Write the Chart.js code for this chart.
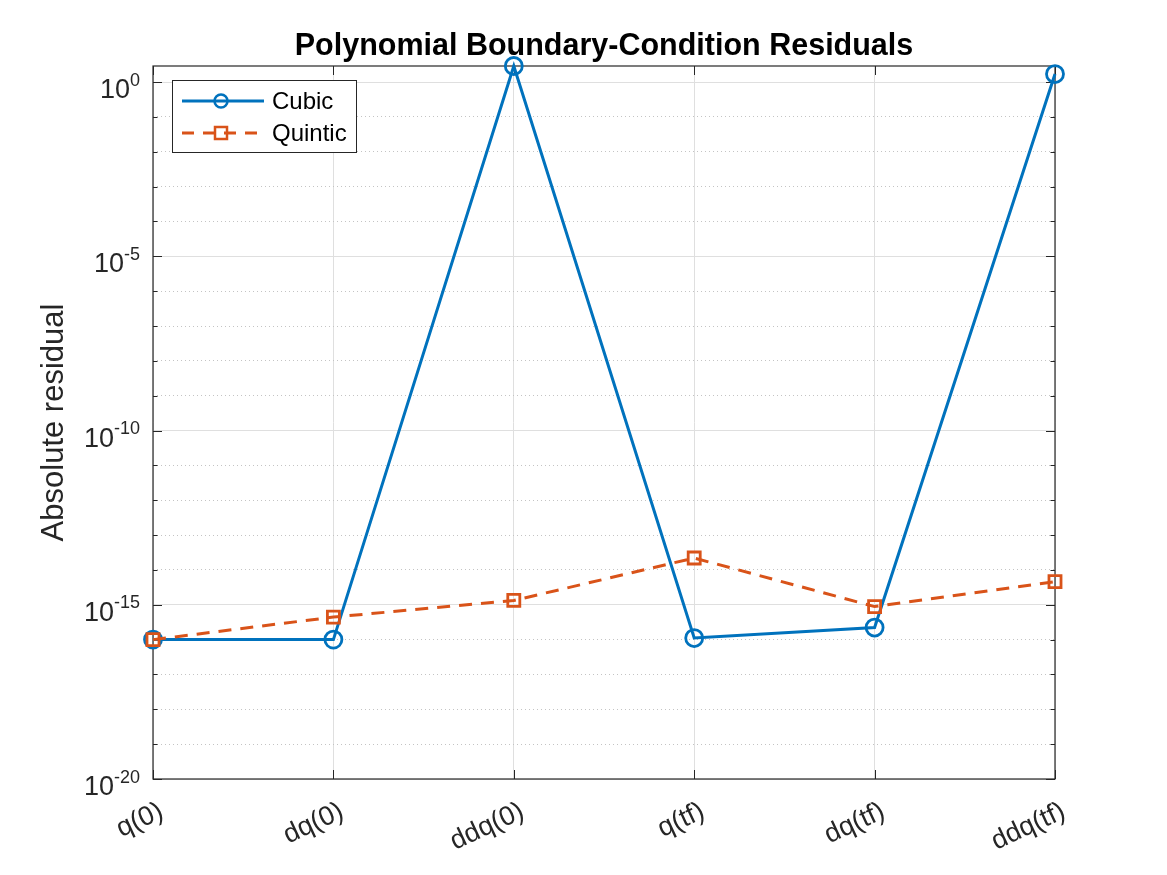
<!DOCTYPE html>
<html>
<head>
<meta charset="utf-8">
<script src="https://cdn.jsdelivr.net/npm/chart.js@4.4.0/dist/chart.umd.min.js"></script>
<style>
html, body { margin: 0; padding: 0; background: #fff; }
canvas { display: block; }
</style>
</head>
<body>
<canvas id="residualChart" width="1167" height="875"></canvas>
<script>
// boundary conditions along the x axis
const conditions = ['q(0)', 'dq(0)', 'ddq(0)', 'q(tf)', 'dq(tf)', 'ddq(tf)'];
// absolute residual per condition
const cubicResidual = [1e-16, 1e-16, 2.9, 1.11e-16, 2.22e-16, 1.7];
const quinticResidual = [1e-16, 4.44e-16, 1.33e-15, 2.2e-14, 8.88e-16, 4.6e-15];
// y axis: labelled decades and limits
const labelledExponents = [0, -5, -10, -15, -20];
const yMin = 1e-20;
const yMax = 2.9;

const FONT = 'Liberation Sans, Arial, sans-serif';
const BLUE = '#0072BD';
const ORANGE = '#D95319';
const AXIS = '#262626';
const LABEL_ROT = 25 * Math.PI / 180;

// every decade gets a grid line, the labelled ones are solid
let decades = [];
for (let e = -20; e <= 0; e++) decades.push(e);
const isMajor = v => labelledExponents.indexOf(Math.round(Math.log10(v))) >= 0;

const axesPlugin = {
    id: 'matlabAxes',
    beforeDatasetsDraw(chart) {
        const { ctx, chartArea: { left, right, top, bottom } } = chart;
        const xs = chart.scales.x, ys = chart.scales.y;
        ctx.save();
        ctx.strokeStyle = AXIS;
        ctx.lineWidth = 1.2;
        ctx.strokeRect(left, top, right - left, bottom - top);
        ctx.lineWidth = 1;
        ctx.beginPath();
        decades.forEach(e => {
            const y = Math.round(ys.getPixelForValue(Math.pow(10, e))) + 0.5;
            const len = labelledExponents.indexOf(e) >= 0 ? 9 : 4.5;
            ctx.moveTo(left, y); ctx.lineTo(left + len, y);
            ctx.moveTo(right, y); ctx.lineTo(right - len, y);
        });
        conditions.forEach((c, i) => {
            const x = Math.round(xs.getPixelForValue(i)) + 0.5;
            ctx.moveTo(x, bottom); ctx.lineTo(x, bottom - 9);
            ctx.moveTo(x, top); ctx.lineTo(x, top + 9);
        });
        ctx.stroke();
        ctx.restore();
    },
    afterDraw(chart) {
        const { ctx, chartArea: { left, right, top, bottom } } = chart;
        const xs = chart.scales.x, ys = chart.scales.y;
        ctx.save();

        // y tick labels as 10 with a raised exponent
        ctx.fillStyle = AXIS;
        ctx.textBaseline = 'alphabetic';
        labelledExponents.forEach(e => {
            const y = ys.getPixelForValue(Math.pow(10, e));
            const exp = String(e);
            ctx.font = '18px ' + FONT;
            const expW = ctx.measureText(exp).width;
            ctx.textAlign = 'right';
            ctx.fillText(exp, 140, y + 3.5);
            ctx.font = '27px ' + FONT;
            ctx.fillText('10', 140 - expW, y + 16);
        });

        // rotated x tick labels
        ctx.font = '27px ' + FONT;
        ctx.textAlign = 'right';
        ctx.textBaseline = 'top';
        conditions.forEach((c, i) => {
            const x = xs.getPixelForValue(i);
            ctx.save();
            ctx.translate(x + 3, bottom + 19);
            ctx.rotate(-LABEL_ROT);
            ctx.fillText(c, 0, 0);
            ctx.restore();
        });

        // title
        ctx.fillStyle = '#000';
        ctx.textBaseline = 'alphabetic';
        ctx.font = 'bold 30.5px ' + FONT;
        ctx.textAlign = 'center';
        ctx.fillText('Polynomial Boundary-Condition Residuals', (left + right) / 2, 55);

        // y axis label
        ctx.save();
        ctx.translate(63, (top + bottom) / 2);
        ctx.rotate(-Math.PI / 2);
        ctx.fillStyle = AXIS;
        ctx.font = '31px ' + FONT;
        ctx.textAlign = 'center';
        ctx.fillText('Absolute residual', 0, 0);
        ctx.restore();

        // legend box
        ctx.fillStyle = '#fff';
        ctx.fillRect(172.5, 80.5, 184, 72);
        ctx.strokeStyle = AXIS;
        ctx.lineWidth = 1;
        ctx.strokeRect(172.5, 80.5, 184, 72);

        ctx.lineWidth = 3;
        ctx.strokeStyle = BLUE;
        ctx.beginPath(); ctx.moveTo(182, 101); ctx.lineTo(264, 101); ctx.stroke();
        ctx.lineWidth = 2.5;
        ctx.beginPath(); ctx.arc(221, 101, 6.5, 0, Math.PI * 2); ctx.stroke();

        ctx.strokeStyle = ORANGE;
        ctx.lineWidth = 3;
        ctx.setLineDash([12, 9]);
        ctx.beginPath(); ctx.moveTo(182, 133); ctx.lineTo(264, 133); ctx.stroke();
        ctx.setLineDash([]);
        ctx.lineWidth = 2.5;
        ctx.strokeRect(215, 127, 12, 12);

        ctx.fillStyle = '#000';
        ctx.font = '24px ' + FONT;
        ctx.textAlign = 'left';
        ctx.textBaseline = 'middle';
        ctx.fillText('Cubic', 272, 102);
        ctx.fillText('Quintic', 272, 134);
        ctx.restore();
    }
};

const chart = new Chart(document.getElementById('residualChart'), {
    type: 'line',
    data: {
        labels: conditions,
        datasets: [{
            label: 'Cubic',
            data: cubicResidual,
            borderColor: BLUE,
            borderWidth: 3,
            pointStyle: 'circle',
            pointRadius: 8.5,
            pointBorderWidth: 2.8,
            pointBackgroundColor: 'rgba(0,0,0,0)',
            pointBorderColor: BLUE,
            tension: 0,
            clip: false,
            order: 1
        }, {
            label: 'Quintic',
            data: quinticResidual,
            borderColor: ORANGE,
            borderWidth: 3,
            borderDash: [13, 9],
            pointStyle: 'rect',
            pointRadius: 8.5,
            pointBorderWidth: 2.8,
            pointBackgroundColor: 'rgba(0,0,0,0)',
            pointBorderColor: ORANGE,
            tension: 0,
            clip: false,
            order: 0
        }]
    },
    options: {
        responsive: false,
        animation: false,
        devicePixelRatio: 1,
        layout: { padding: { top: 66, right: 112, bottom: 0, left: 0 } },
        plugins: {
            legend: { display: false },
            title: { display: false },
            tooltip: { enabled: false }
        },
        scales: {
            x: {
                type: 'category',
                offset: false,
                grid: { color: '#dfdfdf', lineWidth: 1, drawTicks: false },
                border: { display: false },
                ticks: { display: false },
                afterFit: s => { s.height = 96; }
            },
            y: {
                type: 'logarithmic',
                min: yMin,
                max: yMax,
                afterBuildTicks: s => {
                    s.ticks = decades.map(e => ({ value: Math.pow(10, e) }));
                },
                grid: {
                    drawTicks: false,
                    lineWidth: 1,
                    color: c => (c.tick && isMajor(c.tick.value)) ? '#dfdfdf' : '#c4c4c4'
                },
                border: {
                    display: false,
                    dash: c => (c.tick && !isMajor(c.tick.value)) ? [1, 3] : []
                },
                ticks: { display: false },
                afterFit: s => { s.width = 153; }
            }
        }
    },
    plugins: [axesPlugin]
});
</script>
</body>
</html>
